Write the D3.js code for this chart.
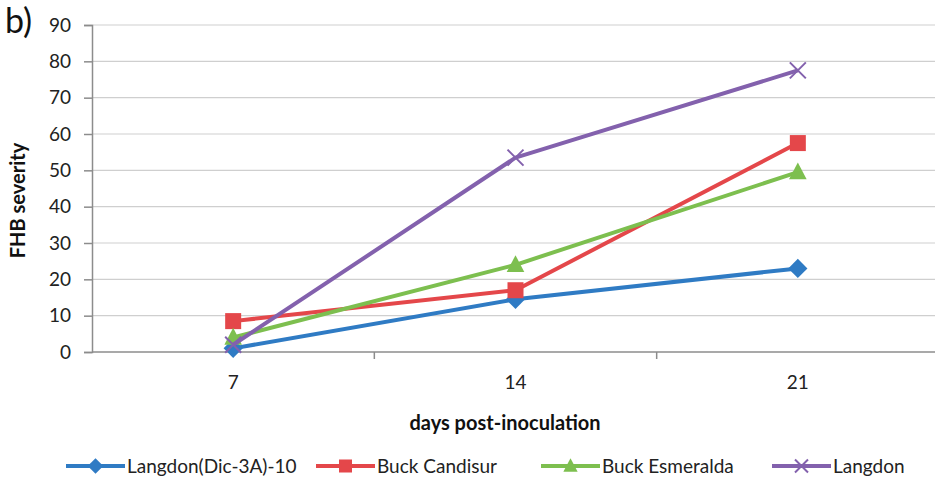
<!DOCTYPE html>
<html><head><meta charset="utf-8">
<script src="https://cdn.jsdelivr.net/npm/d3@7"></script>
<style>body{margin:0;background:#fff}svg{display:block}</style>
</head><body>
<script>
const categories = ["7", "14", "21"];
const yTicks = [0, 10, 20, 30, 40, 50, 60, 70, 80, 90];
const seriesNames = ["Langdon(Dic-3A)-10", "Buck Candisur", "Buck Esmeralda", "Langdon"];
const langdonDic = [1, 14.5, 23];
const buckCandisur = [8.5, 17, 57.5];
const buckEsmeralda = [4, 24, 49.5];
const langdon = [2, 53.5, 77.5];
const colors = ["#2f7bc4", "#e4474a", "#7dbf4f", "#8361ad"];
const symbols = ["diamond", "square", "triangle", "x"];

(function () {
const W = 935, H = 488;
const font = "Lato, 'Liberation Sans', sans-serif";
const svg = d3.select("body").append("svg").attr("width", W).attr("height", H);

const pLeft = 92, pTop = 25, pBottom = 352, pRight = 939;
const x = d3.scaleBand().domain(categories).range([pLeft, pRight]);
const y = d3.scaleLinear().domain([0, 90]).range([pBottom, pTop]);

// gridlines
svg.append("g").selectAll("line").data(yTicks.filter(d => d > 0)).join("line")
  .attr("x1", pLeft).attr("x2", W).attr("y1", d => y(d)).attr("y2", d => y(d))
  .attr("stroke", "#cfcfcf").attr("stroke-width", 1.2);

// y axis
const yAxis = d3.axisLeft(y).tickValues(yTicks).tickSize(8).tickPadding(13);
const gy = svg.append("g").attr("transform", `translate(${pLeft},0)`).call(yAxis);
gy.select(".domain").attr("stroke", "#8c8c8c").attr("stroke-width", 1.5);
gy.selectAll(".tick line").attr("stroke", "#8c8c8c").attr("stroke-width", 1.5);
gy.selectAll(".tick text").attr("font-family", font).attr("font-size", 19).attr("fill", "#222");

// x axis
svg.append("line").attr("x1", pLeft).attr("x2", W).attr("y1", pBottom).attr("y2", pBottom)
  .attr("stroke", "#8c8c8c").attr("stroke-width", 1.5);
svg.append("g").selectAll("line").data(categories.slice(1)).join("line")
  .attr("x1", d => x(d)).attr("x2", d => x(d)).attr("y1", pBottom).attr("y2", pBottom + 7)
  .attr("stroke", "#8c8c8c").attr("stroke-width", 1.5);
svg.append("g").selectAll("text").data(categories).join("text")
  .attr("x", d => x(d) + x.bandwidth() / 2).attr("y", 389)
  .attr("text-anchor", "middle").attr("font-family", font).attr("font-size", 19).attr("fill", "#222")
  .text(d => d);

// titles
svg.append("text").attr("x", 5).attr("y", 33).attr("font-family", font).attr("font-size", 34).attr("fill", "#111").text("b)");
svg.append("text").attr("transform", `translate(25,${(pTop + pBottom) / 2 + 12}) rotate(-90)`)
  .attr("text-anchor", "middle").attr("font-family", font).attr("font-weight", "bold").attr("font-size", 20).attr("fill", "#111")
  .text("FHB severity");
svg.append("text").attr("x", 505).attr("y", 430).attr("text-anchor", "middle")
  .attr("font-family", font).attr("font-weight", "bold").attr("font-size", 20).attr("fill", "#111")
  .text("days post-inoculation");

const allData = [langdonDic, buckCandisur, buckEsmeralda, langdon];

function marker(g, type, cx, cy, color, s) {
  if (type === "diamond") {
    g.append("path").attr("d", `M${cx},${cy - s * 0.6}L${cx + s * 0.6},${cy}L${cx},${cy + s * 0.6}L${cx - s * 0.6},${cy}Z`).attr("fill", color);
  } else if (type === "square") {
    g.append("rect").attr("x", cx - s / 2).attr("y", cy - s / 2).attr("width", s).attr("height", s).attr("fill", color);
  } else if (type === "triangle") {
    g.append("path").attr("d", `M${cx},${cy - s * 0.6}L${cx + s * 0.55},${cy + s * 0.45}L${cx - s * 0.55},${cy + s * 0.45}Z`).attr("fill", color);
  } else {
    const h = s * 0.5;
    g.append("path").attr("d", `M${cx - h},${cy - h}L${cx + h},${cy + h}M${cx - h},${cy + h}L${cx + h},${cy - h}`)
      .attr("stroke", color).attr("stroke-width", 2).attr("fill", "none");
  }
}

const line = d3.line().x((d, i) => x(categories[i]) + x.bandwidth() / 2).y(d => y(d));
allData.forEach((arr, si) => {
  const g = svg.append("g");
  g.append("path").datum(arr).attr("d", line).attr("fill", "none")
    .attr("stroke", colors[si]).attr("stroke-width", 4).attr("stroke-linejoin", "round");
  arr.forEach((v, i) => marker(g, symbols[si], x(categories[i]) + x.bandwidth() / 2, y(v), colors[si], 16));
});

// legend
const legendX = [66, 316, 541, 772];
const ly = 466;
seriesNames.forEach((n, i) => {
  const g = svg.append("g");
  g.append("line").attr("x1", legendX[i]).attr("x2", legendX[i] + 59).attr("y1", ly).attr("y2", ly)
    .attr("stroke", colors[i]).attr("stroke-width", 4);
  marker(g, symbols[i], legendX[i] + 29.5, ly, colors[i], 13);
  g.append("text").attr("x", legendX[i] + 61).attr("y", ly + 7).attr("font-family", font).attr("font-size", 19).attr("fill", "#222").text(n);
});
})();
</script>
</body></html>
